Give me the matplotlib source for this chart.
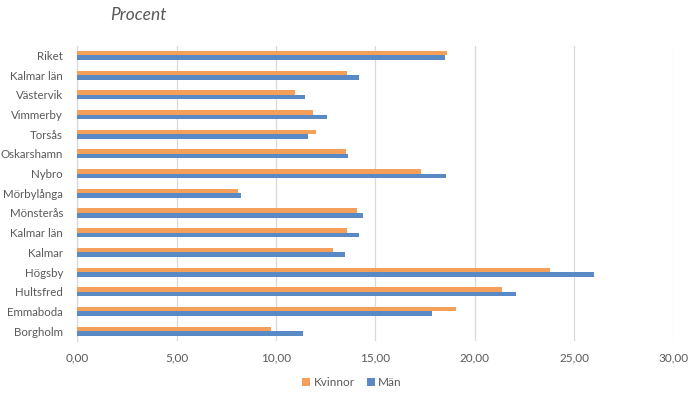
import matplotlib
matplotlib.use("Agg")
import matplotlib.pyplot as plt
import numpy as np

categories = ["Riket", "Kalmar län", "Västervik", "Vimmerby", "Torsås", "Oskarshamn",
              "Nybro", "Mörbylånga", "Mönsterås", "Kalmar län", "Kalmar", "Högsby",
              "Hultsfred", "Emmaboda", "Borgholm"]
kvinnor = [18.60, 13.57, 10.93, 11.84, 12.00, 13.50, 17.29, 8.07, 14.06, 13.57, 12.86,
           23.75, 21.37, 19.05, 9.73]
man = [18.49, 14.17, 11.44, 12.55, 11.60, 13.61, 18.56, 8.23, 14.37, 14.17, 13.46,
       25.96, 22.08, 17.85, 11.35]
xticks = [0, 5, 10, 15, 20, 25, 30]
xticklabels = ["0,00", "5,00", "10,00", "15,00", "20,00", "25,00", "30,00"]

plt.rcParams['font.family'] = ['Lato', 'DejaVu Sans']

fig = plt.figure(figsize=(6.9, 3.93), dpi=100)
ax = fig.add_axes([0.1116, 0.1323, 0.8652, 0.7517])

n = len(categories)
y = np.arange(n)[::-1]
h = 0.23
orange = "#F4A05A"
blue = "#5A8AC6"
ax.barh(y + h / 2, kvinnor, height=h, color=orange, label="Kvinnor", zorder=3)
ax.barh(y - h / 2, man, height=h, color=blue, label="Män", zorder=3)

ax.set_xlim(0, 30)
ax.set_ylim(-0.5, n - 0.5)
ax.set_xticks(xticks)
ax.set_xticklabels(xticklabels)
ax.set_yticks(y)
ax.set_yticklabels(categories)
ax.tick_params(axis='x', length=0, labelsize=8.5, colors="#595959", pad=8)
ax.tick_params(axis='y', length=0, labelsize=8.3, colors="#595959", pad=10)
ax.grid(axis='x', color="#D9D9D9", linewidth=0.9, zorder=0)
for s in ["top", "right", "bottom"]:
    ax.spines[s].set_visible(False)
ax.spines["left"].set_color("#D9D9D9")
ax.spines["left"].set_linewidth(0.9)

fig.text(0.159, 0.962, "Procent", fontsize=12.5, style="italic", color="#595959",
         ha="left", va="center")

fig.legend(loc="center", bbox_to_anchor=(0.51, 0.027), ncol=2, frameon=False,
           fontsize=8.5, handlelength=0.7, handleheight=0.7, handletextpad=0.3,
           columnspacing=1.0, labelcolor="#595959")

fig.savefig("out.png", dpi=100, facecolor="white")
